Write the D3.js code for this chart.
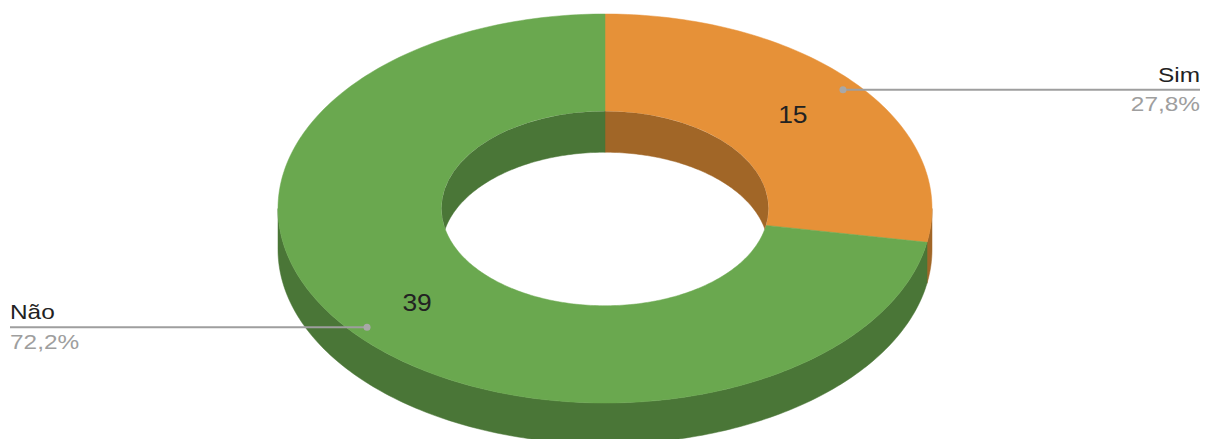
<!DOCTYPE html>
<html>
<head>
<meta charset="utf-8">
<script src="https://cdn.jsdelivr.net/npm/d3@7"></script>
<style>
  html, body { margin: 0; padding: 0; background: #ffffff; }
  svg { display: block; }
</style>
</head>
<body>
<svg id="chart" width="1215" height="439"></svg>
<script>
// Survey answers
const categories = ["Sim", "Não"];
const counts = [15, 39];
const sliceColors = ["#e69138", "#6aa84f"];

const W = 1215, H = 439;
const cx = 605, cy = 208.5;      // centre of the top face
const rx = 327, ry = 194.5;      // outer ellipse radii
const holeRatio = 0.5;           // inner radius / outer radius
const depth = 41;                // thickness of the ring

const svg = d3.select("#chart");

// angles clockwise from 12 o'clock
const pie = d3.pie().value(d => d.value).sort(null);
const data = categories.map((c, i) => ({ name: c, value: counts[i], color: sliceColors[i] }));
const arcs = pie(data);
const total = d3.sum(counts);
const pct = v => d3.format(".1f")(v / total * 100).replace(".", ",") + "%";

// project an angle / radius factor / vertical drop onto the tilted plane
function P(a, rf, dz) {
  return [cx + rx * rf * Math.sin(a), cy - ry * rf * Math.cos(a) + (dz || 0)];
}
function arcPts(a0, a1, rf, dz) {
  const n = Math.max(2, Math.ceil(Math.abs(a1 - a0) / (Math.PI * 2) * 360));
  return d3.range(n + 1).map(i => P(a0 + (a1 - a0) * i / n, rf, dz));
}
const line = d3.line().curve(d3.curveLinear);

// intersect [a0,a1] with [lo,hi] (all in radians, already unwrapped)
function clipRange(a0, a1, lo, hi) {
  const s = Math.max(a0, lo), e = Math.min(a1, hi);
  return s < e ? [s, e] : null;
}

const gSide = svg.append("g");
const gTop = svg.append("g");
const gHole = svg.append("g");

// outer walls: the front half (pi/2 .. 3pi/2)
arcs.forEach(d => {
  const r = clipRange(d.startAngle, d.endAngle, Math.PI / 2, Math.PI * 3 / 2);
  if (!r) return;
  const pts = arcPts(r[0], r[1], 1, 0).concat(arcPts(r[1], r[0], 1, depth));
  gSide.append("path")
    .attr("d", line(pts) + "Z")
    .attr("fill", d3.color(d.data.color).darker(1))
    .attr("stroke", d3.color(d.data.color).darker(1))
    .attr("stroke-width", 0.5);
});

// top faces
arcs.forEach(d => {
  const pts = arcPts(d.startAngle, d.endAngle, 1, 0)
    .concat(arcPts(d.endAngle, d.startAngle, holeRatio, 0));
  gTop.append("path")
    .attr("d", line(pts) + "Z")
    .attr("fill", d.data.color)
    .attr("stroke", d.data.color)
    .attr("stroke-width", 0.5);
});

// inner walls: the back half, seen through the hole
svg.append("defs").append("clipPath").attr("id", "hole")
  .append("ellipse")
  .attr("cx", cx).attr("cy", cy)
  .attr("rx", rx * holeRatio).attr("ry", ry * holeRatio);
gHole.attr("clip-path", "url(#hole)");
arcs.forEach(d => {
  [[-Math.PI / 2, Math.PI / 2], [Math.PI * 3 / 2, Math.PI * 5 / 2]].forEach(([lo, hi]) => {
    const r = clipRange(d.startAngle, d.endAngle, lo, hi);
    if (!r) return;
    const pts = arcPts(r[0], r[1], holeRatio, 0).concat(arcPts(r[1], r[0], holeRatio, depth));
    gHole.append("path")
      .attr("d", line(pts) + "Z")
      .attr("fill", d3.color(d.data.color).darker(1))
      .attr("stroke", d3.color(d.data.color).darker(1))
      .attr("stroke-width", 0.5);
  });
});

// value labels in the middle of each slice
const gVal = svg.append("g");
arcs.forEach(d => {
  const mid = (d.startAngle + d.endAngle) / 2;
  const [x, y] = P(mid, (1 + holeRatio) / 2, 0);
  gVal.append("text")
    .attr("transform", `translate(${x},${y}) scale(1.1,1)`)
    .attr("text-anchor", "middle")
    .attr("dy", "0.36em")
    .attr("font-family", "Liberation Sans, Arial, sans-serif")
    .attr("font-size", 24)
    .attr("fill", "#222222")
    .text(d.data.value);
});

// callouts with leader lines
const gCall = svg.append("g");
const leftX = 10, rightX = 1200;
arcs.forEach(d => {
  const mid = (d.startAngle + d.endAngle) / 2;
  const [x, y] = P(mid, 0.95, 0);
  const right = Math.sin(mid) >= 0;
  const endX = right ? rightX : leftX;
  gCall.append("line")
    .attr("x1", x).attr("y1", y).attr("x2", endX).attr("y2", y)
    .attr("stroke", "#9e9e9e").attr("stroke-width", 2);
  gCall.append("circle")
    .attr("cx", x).attr("cy", y).attr("r", 3.5)
    .attr("fill", "#a8a8a8");
  const anchor = right ? "end" : "start";
  gCall.append("text")
    .attr("transform", `translate(${endX},${y - 8}) scale(1.22,1)`)
    .attr("text-anchor", anchor)
    .attr("font-family", "Liberation Sans, Arial, sans-serif")
    .attr("font-size", 20)
    .attr("fill", "#222222")
    .text(d.data.name);
  gCall.append("text")
    .attr("transform", `translate(${endX},${y + 21.5}) scale(1.22,1)`)
    .attr("text-anchor", anchor)
    .attr("font-family", "Liberation Sans, Arial, sans-serif")
    .attr("font-size", 20)
    .attr("fill", "#9e9e9e")
    .text(pct(d.data.value));
});
</script>
</body>
</html>
